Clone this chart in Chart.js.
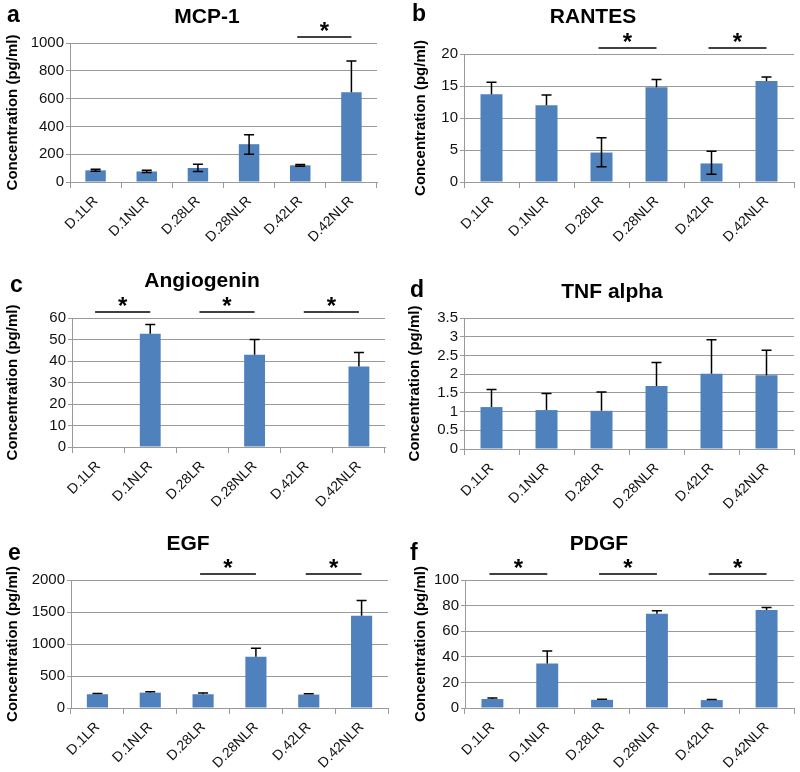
<!DOCTYPE html>
<html>
<head>
<meta charset="utf-8">
<title>Cytokine concentrations</title>
<script src="https://cdn.jsdelivr.net/npm/chart.js@4.4.1/dist/chart.umd.min.js"></script>
<style>
  body { margin: 0; background: #fff; overflow: hidden; }
  #wrap { position: relative; width: 800px; height: 772px; overflow: hidden; }
  canvas { position: absolute; }
</style>
</head>
<body>
<div id="wrap">
  <!-- canvases overlap a little so rotated labels are not cut off -->
  <canvas id="cA" width="400" height="272" style="left:0;top:0"></canvas>
  <canvas id="cB" width="400" height="272" style="left:400px;top:0"></canvas>
  <canvas id="cC" width="400" height="272" style="left:0;top:250px"></canvas>
  <canvas id="cD" width="400" height="272" style="left:400px;top:250px"></canvas>
  <canvas id="cE" width="400" height="262" style="left:0;top:510px"></canvas>
  <canvas id="cF" width="400" height="262" style="left:400px;top:510px"></canvas>
</div>
<script>
// ================= DATA =================
const categories = ["D.1LR", "D.1NLR", "D.28LR", "D.28NLR", "D.42LR", "D.42NLR"];

// MCP-1
const mcpValues = [84, 76, 101, 272, 120, 646];
const mcpHigh   = [92, 84, 128, 340, 126, 870];
const mcpLow    = [78, 68, 75, 200, 114, null];
const mcpSig    = [[4, 5]];

// RANTES
const rantesValues = [13.7, 12.0, 4.6, 14.8, 2.9, 15.8];
const rantesHigh   = [15.6, 13.6, 6.9, 16.0, 4.8, 16.4];
const rantesLow    = [null, null, 2.4, null, 1.2, null];
const rantesSig    = [[2, 3], [4, 5]];

// Angiogenin
const angioValues = [0, 52.7, 0, 42.9, 0, 37.4];
const angioHigh   = [null, 57.0, null, 50.0, null, 43.9];
const angioLow    = [null, null, null, null, null, null];
const angioSig    = [[0, 1], [2, 3], [4, 5]];

// TNF alpha
const tnfValues = [1.12, 1.04, 1.02, 1.68, 2.01, 1.97];
const tnfHigh   = [1.59, 1.48, 1.52, 2.31, 2.92, 2.64];
const tnfLow    = [null, null, null, null, null, null];
const tnfSig    = [];

// EGF
const egfValues = [215, 240, 215, 800, 210, 1440];
const egfHigh   = [228, 255, 235, 935, 222, 1678];
const egfLow    = [null, null, null, null, null, null];
const egfSig    = [[2, 3], [4, 5]];

// PDGF
const pdgfValues = [7.0, 34.7, 6.4, 73.6, 6.2, 76.5];
const pdgfHigh   = [7.8, 44.6, 6.9, 76.0, 6.6, 78.6];
const pdgfLow    = [null, null, null, null, null, null];
const pdgfSig    = [[0, 1], [2, 3], [4, 5]];

// y axis ranges: [max, step]
const mcpAxis    = [1000, 200];
const rantesAxis = [20, 5];
const angioAxis  = [60, 10];
const tnfAxis    = [3.5, 0.5];
const egfAxis    = [2000, 500];
const pdgfAxis   = [100, 20];

// ================= PANELS =================
// area = [left, right, top, bottom] of plot inside its canvas
const panels = [
  { id: "cA", letter: "a", title: "MCP-1", values: mcpValues, high: mcpHigh, low: mcpLow, sig: mcpSig, axis: mcpAxis,
    area: [70, 377, 43, 182], titlePos: [207, 23], letterPos: [7, 22], yTitlePad: 4 },
  { id: "cB", letter: "b", title: "RANTES", values: rantesValues, high: rantesHigh, low: rantesLow, sig: rantesSig, axis: rantesAxis,
    area: [64, 394, 54, 182], titlePos: [193, 23], letterPos: [12, 21], yTitlePad: 12 },
  { id: "cC", letter: "c", title: "Angiogenin", values: angioValues, high: angioHigh, low: angioLow, sig: angioSig, axis: angioAxis,
    area: [72, 385, 68, 197], titlePos: [202, 37], letterPos: [10, 42], yTitlePad: 4 },
  { id: "cD", letter: "d", title: "TNF alpha", values: tnfValues, high: tnfHigh, low: tnfLow, sig: tnfSig, axis: tnfAxis,
    area: [64, 394, 68, 199], titlePos: [212, 48], letterPos: [10, 47], yTitlePad: 6 },
  { id: "cE", letter: "e", title: "EGF", values: egfValues, high: egfHigh, low: egfLow, sig: egfSig, axis: egfAxis,
    area: [71, 388, 70, 198], titlePos: [188, 40], letterPos: [8, 50], yTitlePad: 4 },
  { id: "cF", letter: "f", title: "PDGF", values: pdgfValues, high: pdgfHigh, low: pdgfLow, sig: pdgfSig, axis: pdgfAxis,
    area: [65, 394, 70, 198], titlePos: [199, 40], letterPos: [10, 50], yTitlePad: 12 }
];

const FONT = "'Liberation Sans', Arial, Helvetica, sans-serif";
const BAR_COLOR = "#4F81BD";
const GRID_COLOR = "#9a9a9a";

// error bars, significance lines, titles and panel letters
const decorPlugin = {
  id: "decor",
  afterDatasetsDraw(chart, args, opts) {
    const ctx = chart.ctx;
    const meta = chart.getDatasetMeta(0);
    const yScale = chart.scales.y;
    const top = chart.chartArea.top;

    ctx.save();
    ctx.strokeStyle = "#000";
    ctx.lineWidth = 1.5;

    // error bars
    meta.data.forEach((bar, i) => {
      const hi = opts.high[i];
      if (hi == null) return;
      const lo = opts.low[i] == null ? opts.values[i] : opts.low[i];
      const yHi = yScale.getPixelForValue(hi);
      const yLo = yScale.getPixelForValue(lo);
      ctx.beginPath();
      ctx.moveTo(bar.x, yLo);
      ctx.lineTo(bar.x, yHi);
      ctx.moveTo(bar.x - 5, yHi);
      ctx.lineTo(bar.x + 5, yHi);
      if (opts.low[i] != null) {
        ctx.moveTo(bar.x - 5, yLo);
        ctx.lineTo(bar.x + 5, yLo);
      }
      ctx.stroke();
    });

    // significance
    ctx.fillStyle = "#000";
    ctx.textAlign = "center";
    ctx.textBaseline = "alphabetic";
    ctx.font = "bold 24px " + FONT;
    opts.sig.forEach(pair => {
      const x1 = meta.data[pair[0]].x - 3;
      const x2 = meta.data[pair[1]].x;
      const ly = top - 6;
      ctx.beginPath();
      ctx.moveTo(x1, ly);
      ctx.lineTo(x2, ly);
      ctx.stroke();
      ctx.fillText("*", (x1 + x2) / 2, ly + 2);
    });

    // title
    ctx.font = "bold 21px " + FONT;
    ctx.fillText(opts.title, opts.titlePos[0], opts.titlePos[1]);

    // panel letter
    ctx.textAlign = "left";
    ctx.font = "bold 23px " + FONT;
    ctx.fillText(opts.letter, opts.letterPos[0], opts.letterPos[1]);

    ctx.restore();
  }
};

panels.forEach(p => {
  const canvas = document.getElementById(p.id);
  const [left, right, top, bottom] = p.area;

  new Chart(canvas.getContext("2d"), {
    type: "bar",
    data: {
      labels: categories,
      datasets: [{
        data: p.values,
        backgroundColor: BAR_COLOR,
        borderWidth: 0,
        barPercentage: 0.4,
        categoryPercentage: 1
      }]
    },
    plugins: [decorPlugin],
    options: {
      responsive: false,
      animation: false,
      devicePixelRatio: 1,
      layout: {
        padding: { left: 0, top: top, right: canvas.width - right, bottom: 0 }
      },
      plugins: {
        legend: { display: false },
        tooltip: { enabled: false },
        decor: {
          values: p.values, high: p.high, low: p.low, sig: p.sig,
          title: p.title, titlePos: p.titlePos,
          letter: p.letter, letterPos: p.letterPos
        }
      },
      scales: {
        x: {
          afterFit: scale => { scale.height = canvas.height - bottom; },
          grid: { offset: true, drawOnChartArea: false, tickLength: 6, color: GRID_COLOR },
          border: { color: GRID_COLOR },
          ticks: {
            minRotation: 45, maxRotation: 45, padding: 5,
            autoSkip: false,
            color: "#111",
            font: { family: FONT, size: 14 }
          }
        },
        y: {
          min: 0,
          max: p.axis[0],
          afterFit: scale => { scale.width = left; },
          grid: { color: GRID_COLOR, tickLength: 4 },
          border: { color: GRID_COLOR },
          ticks: {
            stepSize: p.axis[1],
            autoSkip: false,
            padding: 2,
            color: "#111",
            font: { family: FONT, size: 15 },
            callback: v => String(+v.toFixed(2))
          },
          title: {
            display: true,
            text: "Concentration (pg/ml)",
            color: "#000",
            padding: { top: p.yTitlePad, bottom: 0 },
            font: { family: FONT, size: 15, weight: "bold" }
          }
        }
      }
    }
  });
});
</script>
</body>
</html>
